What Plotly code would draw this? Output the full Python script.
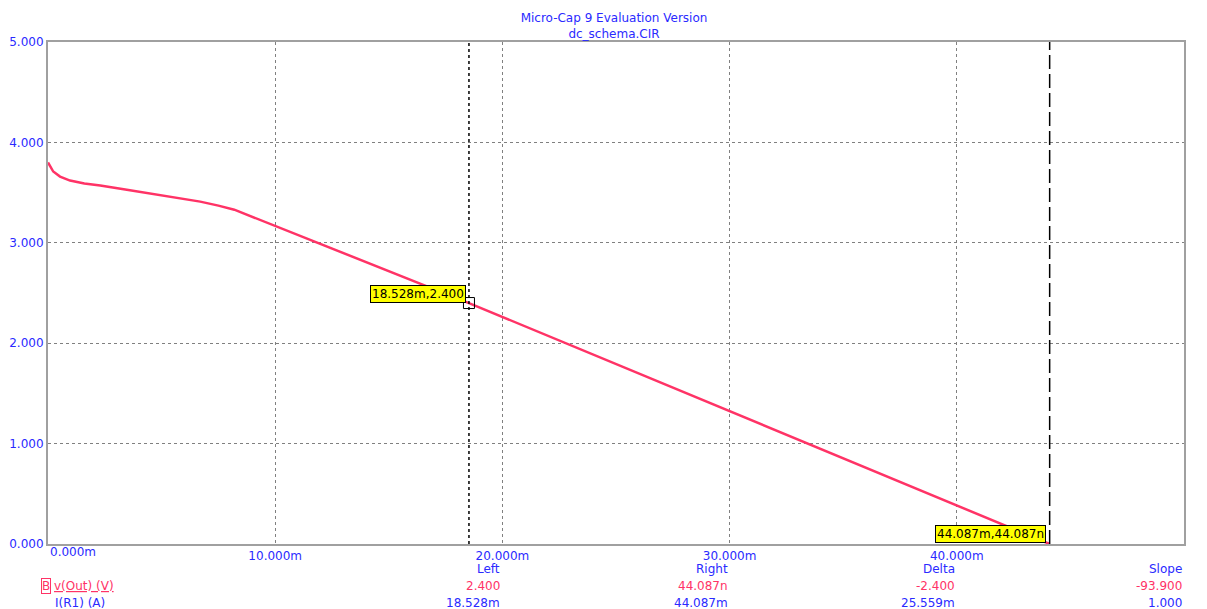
import plotly.graph_objects as go

# ---- data ----
i_r1_mA = [0, 0.09, 0.23, 0.53, 0.97, 1.6, 2.3, 3.4, 4.5, 5.6, 6.7, 7.5, 8.2, 18.528, 44.087]
v_out = [3.80, 3.76, 3.71, 3.66, 3.62, 3.59, 3.57, 3.53, 3.49, 3.45, 3.41, 3.37, 3.33, 2.40, 0.0]

x_ticks = [0, 10, 20, 30, 40, 50]
x_tick_text = ["", "10.000m", "20.000m", "30.000m", "40.000m", "50.000m"]
y_ticks = [0, 1, 2, 3, 4, 5]
y_tick_text = ["0.000", "1.000", "2.000", "3.000", "4.000", "5.000"]

left_cursor = 18.528
left_value = 2.400
right_cursor = 44.087
right_value = 0.0

cursor_headers = ["Left", "Right", "Delta", "Slope"]
vout_values = ["2.400", "44.087n", "-2.400", "-93.900"]
ir1_values = ["18.528m", "44.087m", "25.559m", "1.000"]
column_x = [20, 30, 40, 50]

BLUE = "#2a2aff"
RED = "#ff3366"
FONT = "DejaVu Sans, Verdana, sans-serif"
FS = 12

# page has an 8px body margin: figure origin is at page (8, 8)
OFF = 8
FIG_W = 1207 - OFF
FIG_H = 609 - OFF
PLOT_L, PLOT_R, PLOT_T, PLOT_B = 48, 1184, 42, 544   # page pixels

fig = go.Figure()
fig.add_trace(go.Scatter(x=i_r1_mA, y=v_out, mode="lines",
                         line=dict(color=RED, width=2.5), showlegend=False,
                         hoverinfo="skip"))
fig.add_trace(go.Scatter(x=[left_cursor], y=[left_value], mode="markers",
                         marker=dict(symbol="square-open", size=11, color="black",
                                     line=dict(width=1)), showlegend=False))

fig.add_vline(x=left_cursor, line=dict(color="black", width=1.5, dash="3px,3px"))
fig.add_vline(x=right_cursor, line=dict(color="black", width=1.5, dash="14px,5px"))

fig.add_annotation(x=left_cursor, y=left_value, xref="x", yref="y",
                   text=f"{left_cursor:.3f}m,{left_value:.3f}", showarrow=False,
                   xanchor="right", yanchor="bottom", xshift=-3, yshift=0,
                   bgcolor="#ffff00", bordercolor="black", borderwidth=1, borderpad=1,
                   font=dict(family=FONT, size=FS, color="black"))
fig.add_annotation(x=right_cursor, y=right_value, xref="x", yref="y",
                   text=f"{right_cursor:.3f}m,{right_cursor:.3f}n", showarrow=False,
                   xanchor="right", yanchor="bottom", xshift=-4, yshift=1,
                   bgcolor="#ffff00", bordercolor="black", borderwidth=1, borderpad=1,
                   font=dict(family=FONT, size=FS, color="black"))

H = float(PLOT_B - PLOT_T)
W = float(PLOT_R - PLOT_L)
def py(pix):
    return (PLOT_B - pix) / H
def pxp(pix):
    return (pix - PLOT_L) / W

fig.add_annotation(x=0, y=py(552), xref="x", yref="paper", text="0.000m",
                   showarrow=False, xanchor="left", yanchor="middle",
                   font=dict(family=FONT, size=FS, color=BLUE))

for cx, h, v, i in zip(column_x, cursor_headers, vout_values, ir1_values):
    fig.add_annotation(x=cx, y=py(569), xref="x", yref="paper", text=h,
                       showarrow=False, xanchor="right", yanchor="middle",
                       font=dict(family=FONT, size=FS, color=BLUE))
    fig.add_annotation(x=cx, y=py(586), xref="x", yref="paper", text=v,
                       showarrow=False, xanchor="right", yanchor="middle",
                       font=dict(family=FONT, size=FS, color=RED))
    fig.add_annotation(x=cx, y=py(603), xref="x", yref="paper", text=i,
                       showarrow=False, xanchor="right", yanchor="middle",
                       font=dict(family=FONT, size=FS, color=BLUE))

fig.add_annotation(x=pxp(41), y=py(586), xref="paper", yref="paper", text="B",
                   showarrow=False, xanchor="left", yanchor="middle",
                   bordercolor=RED, borderwidth=1, borderpad=0,
                   font=dict(family=FONT, size=FS, color=RED))
fig.add_annotation(x=pxp(52), y=py(586), xref="paper", yref="paper", text="<u>v(Out) (V)</u>",
                   showarrow=False, xanchor="left", yanchor="middle",
                   font=dict(family=FONT, size=FS, color=RED))
fig.add_annotation(x=pxp(53), y=py(603), xref="paper", yref="paper", text="I(R1) (A)",
                   showarrow=False, xanchor="left", yanchor="middle",
                   font=dict(family=FONT, size=FS, color=BLUE))

fig.update_layout(
    width=FIG_W, height=FIG_H,
    margin=dict(l=PLOT_L - OFF, r=1207 - PLOT_R, t=PLOT_T - OFF, b=609 - PLOT_B,
                autoexpand=False),
    paper_bgcolor="white", plot_bgcolor="white",
    title=dict(text="Micro-Cap 9 Evaluation Version<br>dc_schema.CIR",
               x=(614 - OFF) / FIG_W, xanchor="center", y=1 - 14 / FIG_H, yanchor="middle",
               font=dict(family=FONT, size=FS, color=BLUE)),
    font=dict(family=FONT, size=FS, color=BLUE),
)
fig.update_xaxes(range=[0, 50], tickvals=x_ticks, ticktext=x_tick_text,
                 showgrid=True, gridcolor="#808080", griddash="3px,3px", gridwidth=1,
                 showline=True, linecolor="#a0a0a0", linewidth=2, mirror=True,
                 ticks="", zeroline=False, automargin=False,
                 tickfont=dict(color=BLUE, size=FS))
fig.update_yaxes(range=[0, 5], tickvals=y_ticks, ticktext=y_tick_text,
                 showgrid=True, gridcolor="#808080", griddash="3px,3px", gridwidth=1,
                 showline=True, linecolor="#a0a0a0", linewidth=2, mirror=True,
                 ticks="", zeroline=False, automargin=False,
                 tickfont=dict(color=BLUE, size=FS))

fig.write_html("out.html")
